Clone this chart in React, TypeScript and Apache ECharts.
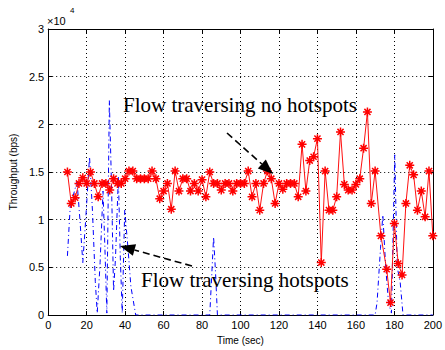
import React, { useEffect, useRef } from 'react';
import * as echarts from 'echarts';

// Throughput in units of 10^4 bps, sampled over time (sec)
const noHotspotTime = [
  10, 12, 14, 16, 18, 20, 22, 24, 26, 28, 30, 32, 34, 36, 38, 40, 42, 44, 46, 48,
  50, 52, 54, 56, 58, 60, 62, 64, 66, 68, 70, 72, 74, 76, 78, 80, 82, 84, 86, 88,
  90, 92, 94, 96, 98, 100, 102, 104, 106, 108, 110, 112, 114, 116, 118, 120, 122, 124, 126, 128,
  130, 132, 134, 136, 138, 140, 142, 144, 146, 148, 150, 152, 154, 156, 158, 160, 162, 164, 166, 168,
  170, 173, 176, 178, 180, 182, 184, 186, 188, 190, 192, 194, 196, 198, 200,
];
const noHotspotThroughput = [
  1.5, 1.17, 1.23, 1.38, 1.44, 1.38, 1.5, 1.38, 1.24, 1.38, 1.38, 1.31, 1.43, 1.38, 1.38, 1.43, 1.51, 1.51, 1.43, 1.43,
  1.43, 1.43, 1.51, 1.43, 1.22, 1.3, 1.38, 1.11, 1.51, 1.3, 1.43, 1.43, 1.3, 1.38, 1.3, 1.42, 1.24, 1.5, 1.38, 1.38,
  1.31, 1.38, 1.38, 1.3, 1.38, 1.38, 1.38, 1.51, 1.24, 1.38, 1.1, 1.38, 1.51, 1.43, 1.17, 1.38, 1.32, 1.38, 1.38, 1.38,
  1.24, 1.79, 1.3, 1.62, 1.66, 1.85, 0.55, 1.51, 1.1, 1.1, 1.24, 1.92, 1.37, 1.31, 1.31, 1.37, 1.43, 1.75, 2.13, 1.17,
  1.51, 0.83, 0.48, 0.13, 0.96, 0.54, 0.42, 1.17, 1.57, 1.47, 1.1, 1.3, 1.03, 1.51, 0.83,
];

const hotspotTime = [
  10, 11.5, 13, 15, 16.5, 18, 19.5, 21.5, 23, 24.5, 25.5, 27, 28.5, 29.5, 30.5, 31.8, 33, 34, 35, 36.5,
  37.5, 38.5, 39.8, 41.5, 43, 45.5, 84, 85, 86, 87, 88, 170, 171, 172.8, 174, 175.5, 177, 178.5, 179.5, 180.2,
  181.5, 183, 184.5, 200,
];
const hotspotThroughput = [
  0.62, 1.15, 1.25, 1.4, 1.0, 0.55, 1.0, 1.66, 1.1, 0.35, 0.02, 0.55, 1.3, 0.7, 0.02, 2.25, 1.3, 0.25, 0.6, 1.45,
  0.6, 0.02, 1.1, 0.7, 0.3, 0, 0, 0.4, 0.82, 0.45, 0, 0, 0.13, 0.7, 1.05, 0.5, 0.12, 0.02, 1.0, 1.68,
  0.5, 0.35, 0, 0,
];

const xTicks = { min: 0, max: 200, step: 20 };
const yTicks = { min: 0, max: 3, step: 0.5 };

const asterisk = 'path://M5,0L5,10M0,5L10,5M1.6,1.6L8.4,8.4M1.6,8.4L8.4,1.6';

function arrow(x1: number, y1: number, x2: number, y2: number) {
  const len = 15;
  const half = 6;
  const dx = x2 - x1;
  const dy = y2 - y1;
  const d = Math.hypot(dx, dy);
  const ux = dx / d;
  const uy = dy / d;
  const bx = x2 - ux * len;
  const by = y2 - uy * len;
  return [
    {
      type: 'line',
      shape: { x1, y1, x2: bx, y2: by },
      style: { stroke: '#000', lineWidth: 1.6, lineDash: [7, 4] },
      z: 10,
    },
    {
      type: 'polygon',
      shape: {
        points: [
          [x2, y2],
          [bx - uy * half, by + ux * half],
          [bx + uy * half, by - ux * half],
        ],
      },
      style: { fill: '#000' },
      z: 10,
    },
  ];
}

const axisBase = {
  type: 'value',
  axisLine: { show: true, onZero: false, lineStyle: { color: '#000', width: 1 } },
  axisTick: { show: true, inside: true, length: 4, lineStyle: { color: '#000', width: 1 } },
};

export default function App() {
  const ref = useRef<HTMLDivElement>(null);

  useEffect(() => {
    if (!ref.current) return;
    const chart = echarts.init(ref.current, undefined, { renderer: 'svg' });
    const font = '"Liberation Sans", Arial, Helvetica, sans-serif';
    const serif = '"Liberation Serif", "Times New Roman", serif';

    const option = {
      animation: false,
      backgroundColor: '#fff',
      textStyle: { fontFamily: font },
      grid: { left: 48, right: 7, top: 29, bottom: 34, containLabel: false },
      xAxis: [
        {
          ...axisBase,
          position: 'bottom',
          min: xTicks.min,
          max: xTicks.max,
          interval: xTicks.step,
          name: 'Time (sec)',
          nameLocation: 'middle',
          nameGap: 20,
          nameTextStyle: { fontSize: 10, color: '#000', fontFamily: font },
          axisLabel: { fontSize: 11, color: '#000', margin: 4, fontFamily: font },
          splitLine: { show: true, lineStyle: { color: '#000', type: [1, 3], width: 1 } },
        },
        {
          ...axisBase,
          position: 'top',
          min: xTicks.min,
          max: xTicks.max,
          interval: xTicks.step,
          axisLabel: { show: false },
          splitLine: { show: false },
        },
      ],
      yAxis: [
        {
          ...axisBase,
          position: 'left',
          min: yTicks.min,
          max: yTicks.max,
          interval: yTicks.step,
          name: 'Throughput (bps)',
          nameLocation: 'middle',
          nameGap: 29,
          nameTextStyle: { fontSize: 10, color: '#000', fontFamily: font },
          axisLabel: { fontSize: 11, color: '#000', margin: 4, fontFamily: font },
          splitLine: { show: true, lineStyle: { color: '#000', type: [1, 3], width: 1 } },
        },
        {
          ...axisBase,
          position: 'right',
          min: yTicks.min,
          max: yTicks.max,
          interval: yTicks.step,
          axisLabel: { show: false },
          splitLine: { show: false },
        },
      ],
      series: [
        {
          name: 'Flow traversing hotspots',
          type: 'line',
          data: hotspotTime.map((t, i) => [t, hotspotThroughput[i]]),
          showSymbol: false,
          symbol: 'none',
          lineStyle: { color: '#0000ff', width: 1, type: [5, 3, 1, 3] },
          z: 3,
        },
        {
          name: 'Flow traversing no hotspots',
          type: 'line',
          data: noHotspotTime.map((t, i) => [t, noHotspotThroughput[i]]),
          symbol: asterisk,
          symbolSize: 9,
          itemStyle: { color: '#ff0000', borderColor: '#ff0000', borderWidth: 1.5 },
          lineStyle: { color: '#ff1010', width: 1 },
          z: 4,
        },
      ],
      graphic: [
        { type: 'text', left: 47, top: 15, style: { text: '\u00d710', font: `11px ${font}`, fill: '#000' } },
        { type: 'text', left: 70, top: 6, style: { text: '4', font: `8px ${font}`, fill: '#000' } },
        {
          type: 'text',
          x: 123,
          y: 115,
          style: { text: 'Flow traversing no hotspots', font: `21px ${serif}`, fill: '#000', textVerticalAlign: 'bottom' },
          z: 10,
        },
        {
          type: 'text',
          x: 141,
          y: 290,
          style: { text: 'Flow traversing hotspots', font: `21px ${serif}`, fill: '#000', textVerticalAlign: 'bottom' },
          z: 10,
        },
        ...arrow(227, 133, 273, 174),
        ...arrow(192, 266, 120, 246),
      ],
    };

    chart.setOption(option as any);
    return () => chart.dispose();
  }, []);

  return (
    <div
      ref={ref}
      style={{ position: 'fixed', left: 0, top: 0, width: 445, height: 350, background: '#fff' }}
    />
  );
}
